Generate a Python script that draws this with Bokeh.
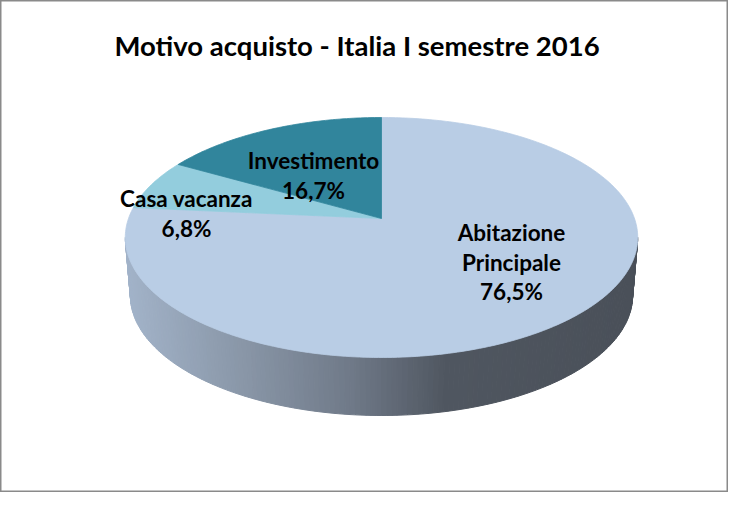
import numpy as np
from bokeh.plotting import figure
from bokeh.models import Range1d
from bokeh.core.properties import value
from bokeh.embed import file_html
from bokeh.resources import INLINE

# ---------------- data ----------------
title_text = "Motivo acquisto - Italia I semestre 2016"
categories = ["Abitazione Principale", "Casa vacanza", "Investimento"]
shares = [76.5, 6.8, 16.7]
pct_labels = ["76,5%", "6,8%", "16,7%"]
name_lines = [["Abitazione", "Principale"], ["Casa vacanza"], ["Investimento"]]

# ---------------- style / layout ----------------
slice_colors = ["#b9cde5", "#93cddd", "#31859c"]
FONT = "Lato"
CX, CY = 381.0, 218.0       # pie centre (pixel-like coordinates)
R, A, B = 253.0, 117.0, 0.1583   # horizontal radius, vertical scale, perspective
DEPTH, SHRINK = 58.0, 0.98
# label anchors (centre x, baseline of first line), line spacing
label_anchor = [(511, 232), (186, 198), (313, 160)]
LINE_H = 29.5

p = figure(width=728, height=492, output_backend="svg", toolbar_location=None,
           x_range=Range1d(0, 728), y_range=Range1d(492, 0), min_border=0)
p.axis.visible = False
p.grid.visible = False
p.outline_line_color = "#8a8a8a"
p.outline_line_width = 2
p.background_fill_color = "white"
p.border_fill_color = "white"


def proj(theta, depth=0.0, shrink=1.0):
    s = np.sin(theta)
    c = np.cos(theta)
    d = 1 + B * s
    return CX + R * shrink * c / d, CY - A * s / d + depth


# side (front part of the cylinder), shaded
dense = np.radians(np.linspace(180, 360, 2001))
xs_d, _ = proj(dense)
t_left = dense[np.argmin(xs_d)]
t_right = dense[np.argmax(xs_d)]
n = 160
th = np.linspace(t_left, t_right, n + 1)
stop_x = [126, 250, 350, 445, 636]
stop_r = [163, 136, 112, 80, 74]
stop_g = [180, 149, 122, 87, 80]
stop_b = [202, 166, 137, 97, 89]
sx, sy, sc = [], [], []
for i in range(n):
    t2 = np.array([th[i], th[i + 1]])
    xt, yt = proj(t2)
    xb, yb = proj(t2, DEPTH, SHRINK)
    sx.append([xt[0], xt[1], xb[1], xb[0]])
    sy.append([yt[0], yt[1], yb[1], yb[0]])
    mx = (xt[0] + xt[1] + xb[0] + xb[1]) / 4
    r = int(np.interp(mx, stop_x, stop_r))
    g = int(np.interp(mx, stop_x, stop_g))
    b = int(np.interp(mx, stop_x, stop_b))
    sc.append("#%02x%02x%02x" % (r, g, b))
p.patches(sx, sy, fill_color=sc, line_color=sc, line_width=1)

# top faces (start at 12 o'clock, clockwise)
cum = 0.0
for share, col in zip(shares, slice_colors):
    a0 = np.radians(90 - cum * 3.6)
    a1 = np.radians(90 - (cum + share) * 3.6)
    t = np.linspace(a0, a1, max(8, int(share * 4)))
    x, y = proj(t)
    p.patch(np.concatenate([[CX], x]), np.concatenate([[CY], y]),
            fill_color=col, line_color=col, line_width=0.8)
    cum += share

# labels
for lines, pct, (lx, ly) in zip(name_lines, pct_labels, label_anchor):
    texts = lines + [pct]
    ys = [ly + k * LINE_H for k in range(len(texts))]
    p.text(x=[lx] * len(texts), y=ys, text=texts, text_align="center",
           text_baseline="alphabetic", text_font=value(FONT), text_font_style="bold",
           text_font_size="22.5px", text_color="black")

p.text(x=[356.5], y=[45], text=[title_text], text_align="center",
       text_baseline="alphabetic", text_font=value(FONT), text_font_style="bold",
       text_font_size="27.5px", text_color="black")

open("out.html", "w").write(file_html(p, INLINE))
